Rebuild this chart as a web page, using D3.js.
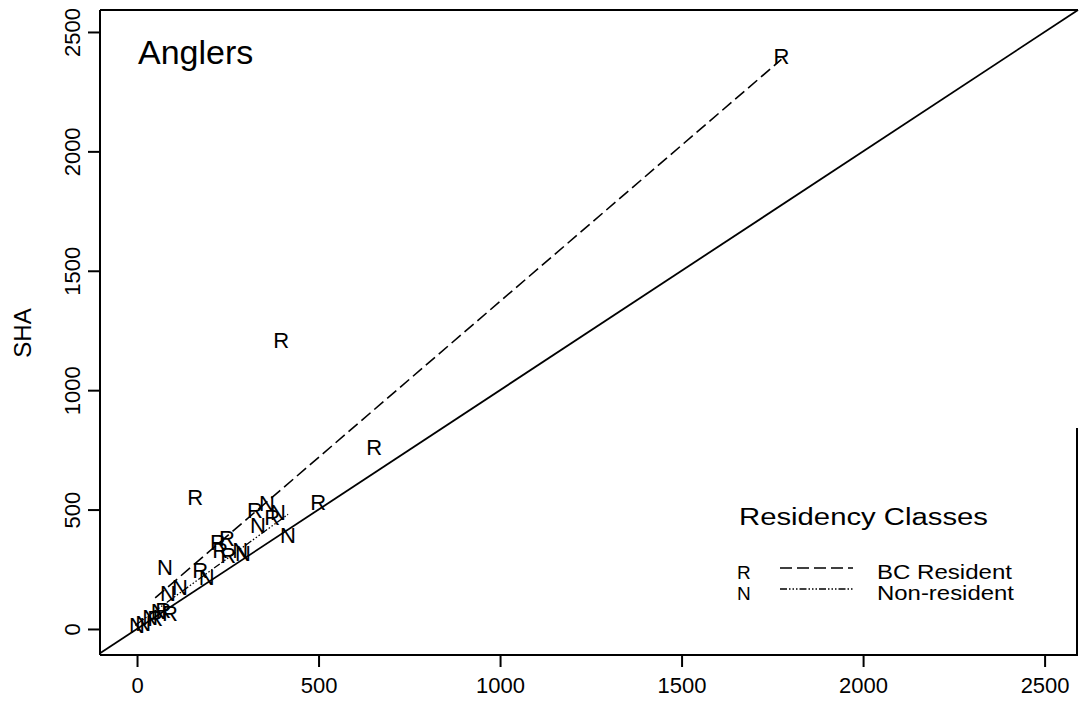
<!DOCTYPE html>
<html>
<head>
<meta charset="utf-8">
<script src="https://cdn.jsdelivr.net/npm/d3@7"></script>
<style>
  html, body { margin: 0; padding: 0; background: #fff; }
  svg { display: block; }
  text { font-family: "Liberation Sans", Arial, Helvetica, sans-serif; fill: #000; }
</style>
</head>
<body>
<svg id="chart" width="1079" height="709"></svg>
<script>
// ---- data ----
const xTicks = [0, 500, 1000, 1500, 2000, 2500];
const yTicks = [0, 500, 1000, 1500, 2000, 2500];

// BC Resident points [x, SHA]
const residentPts = [
  [1775, 2400], [397, 1210], [653, 762], [160, 553], [499, 532],
  [325, 498], [372, 469], [223, 364], [248, 381], [229, 331],
  [251, 310], [174, 247], [50, 46], [91, 67], [72, 80]
];
// Non-resident points [x, SHA]
const nonResidentPts = [
  [77, 260], [416, 394], [358, 527], [388, 490], [333, 435],
  [284, 331], [292, 318], [192, 218], [118, 176], [85, 150],
  [0, 17], [17, 25], [36, 50], [60, 75]
];
// fitted lines (end points) per class
const residentLine = [[50, 130], [1775, 2385]];
const nonResidentLine = [[-5, 15], [416, 480]];
// 1:1 reference line
const identityLine = [[-102, -102], [2592, 2592]];

const legendClasses = ["R", "N"];
const legendNames = ["BC Resident", "Non-resident"];
const panelTitle = "Anglers";
const yTitle = "SHA";

// ---- layout ----
const svg = d3.select("#chart");
const x = d3.scaleLinear().domain([-102, 2592]).range([100, 1078]);
const y = d3.scaleLinear().domain([-109, 2592]).range([655, 10]);

const line = d3.line().x(d => x(d[0])).y(d => y(d[1]));

// box
const box = svg.append("g").attr("stroke", "#000").attr("stroke-width", 2).attr("fill", "none");
box.append("line").attr("x1", 100).attr("x2", 1078).attr("y1", 10).attr("y2", 10);
box.append("line").attr("x1", 100).attr("x2", 100).attr("y1", 10).attr("y2", 655);
box.append("line").attr("x1", 100).attr("x2", 1078).attr("y1", 655).attr("y2", 655);
box.append("line").attr("x1", 1077).attr("x2", 1077).attr("y1", 428).attr("y2", 655);

// x axis
const xAxis = svg.append("g").attr("transform", "translate(0,655)")
  .call(d3.axisBottom(x).tickValues(xTicks).tickSize(12).tickPadding(10).tickFormat(d3.format("d")));
xAxis.select(".domain").remove();
xAxis.selectAll(".tick line").attr("stroke", "#000").attr("stroke-width", 2);
xAxis.selectAll(".tick text").attr("font-size", 22).attr("font-family", "Liberation Sans, Arial, sans-serif");

// y axis
const yAxis = svg.append("g").attr("transform", "translate(100,0)")
  .call(d3.axisLeft(y).tickValues(yTicks).tickSize(12).tickPadding(0).tickFormat(d3.format("d")));
yAxis.select(".domain").remove();
yAxis.selectAll(".tick line").attr("stroke", "#000").attr("stroke-width", 2);
yAxis.selectAll(".tick text")
  .attr("font-size", 22).attr("font-family", "Liberation Sans, Arial, sans-serif")
  .attr("x", 0).attr("dy", 0)
  .attr("text-anchor", "middle")
  .attr("transform", "translate(-20,0) rotate(-90)");

// y title
svg.append("text").text(yTitle)
  .attr("font-size", 24)
  .attr("text-anchor", "middle")
  .attr("transform", "translate(31,333) rotate(-90)");

// panel title
svg.append("text").text(panelTitle)
  .attr("x", 138).attr("y", 64).attr("font-size", 34);

// identity line
svg.append("path").datum(identityLine).attr("d", line)
  .attr("fill", "none").attr("stroke", "#000").attr("stroke-width", 1.8);

// fitted lines
svg.append("path").datum(residentLine).attr("d", line)
  .attr("fill", "none").attr("stroke", "#000").attr("stroke-width", 1.6)
  .attr("stroke-dasharray", "12,5");
svg.append("path").datum(nonResidentLine).attr("d", line)
  .attr("fill", "none").attr("stroke", "#000").attr("stroke-width", 1.3)
  .attr("stroke-dasharray", "7,2,1.5,2,1.5,2,1.5,2");

// point labels
const ptG = svg.append("g").attr("font-size", 22).attr("text-anchor", "middle");
ptG.selectAll("text.r").data(residentPts).join("text").attr("class", "r")
  .attr("x", d => x(d[0])).attr("y", d => y(d[1])).attr("dy", "0.36em").text("R");
ptG.selectAll("text.n").data(nonResidentPts).join("text").attr("class", "n")
  .attr("x", d => x(d[0])).attr("y", d => y(d[1])).attr("dy", "0.36em").text("N");

// legend
const lg = svg.append("g");
lg.append("text").text("Residency Classes")
  .attr("x", 739).attr("y", 525).attr("font-size", 23)
  .attr("textLength", 249).attr("lengthAdjust", "spacingAndGlyphs");
const dashes = ["12,5", "7,2,1.5,2,1.5,2,1.5,2"];
legendClasses.forEach((c, i) => {
  const yy = 579 + i * 21;
  lg.append("text").text(c).attr("x", 737).attr("y", yy).attr("font-size", 19);
  lg.append("line").attr("x1", 780).attr("x2", 853).attr("y1", yy - 11).attr("y2", yy - 11)
    .attr("stroke", "#000").attr("stroke-width", 1.3).attr("stroke-dasharray", dashes[i]);
  lg.append("text").text(legendNames[i]).attr("x", 877).attr("y", yy).attr("font-size", 20)
    .attr("textLength", i === 0 ? 135 : 137).attr("lengthAdjust", "spacingAndGlyphs");
});
</script>
</body>
</html>
